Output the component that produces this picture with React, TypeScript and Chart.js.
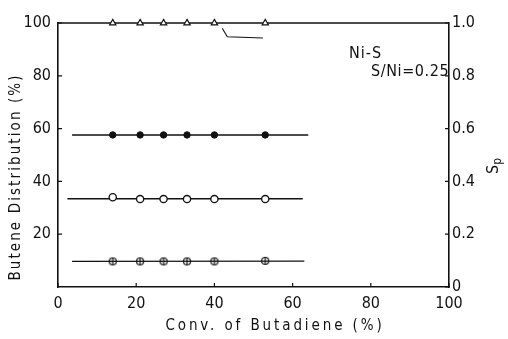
import React, { useEffect, useRef } from 'react';
import { Chart, registerables } from 'chart.js';
Chart.register(...registerables);

const FONT = "'DejaVu Sans Condensed', 'DejaVu Sans', sans-serif";

// Data
const conversion = [14, 21, 27, 33, 40, 53];
const triangleValues = [100, 100, 100, 100, 100, 100];
const filledValues = [57.6, 57.6, 57.6, 57.6, 57.6, 57.6];
const openValues = [34, 33.3, 33.3, 33.3, 33.3, 33.3];
const halfValues = [9.7, 9.7, 9.7, 9.7, 9.7, 9.9];

const filledFitX = [3.6, 64];
const filledFitY = [57.6, 57.6];
const openFitX = [2.4, 62.6];
const openFitY = [33.4, 33.4];
const halfFitX = [3.6, 63];
const halfFitY = [9.7, 9.8];
const leaderX = [42, 43.3, 52.4];
const leaderY = [98, 94.8, 94.3];

const xTicks = [0, 20, 40, 60, 80, 100];
const leftTicks = [20, 40, 60, 80, 100];
const rightTicks = [0, 0.2, 0.4, 0.6, 0.8, 1.0];

const xTitle = 'Conv. of Butadiene (%)';
const yTitle = 'Butene Distribution (%)';
const noteLine1 = 'Ni-S';
const noteLine2 = 'S/Ni=0.25';

const pts = (xs: number[], ys: number[]) => xs.map((x, i) => ({ x, y: ys[i] }));

function halfMarker(): HTMLCanvasElement {
  const c = document.createElement('canvas');
  c.width = 10; c.height = 10;
  const g = c.getContext('2d')!;
  g.strokeStyle = '#111';
  g.lineWidth = 1.2;
  g.beginPath(); g.arc(5, 5, 3.5, 0, Math.PI * 2); g.stroke();
  g.beginPath(); g.moveTo(5, 1.3); g.lineTo(5, 8.7); g.stroke();
  return c;
}

const decor = {
  id: 'decor',
  afterDraw(chart: any) {
    const ctx = chart.ctx as CanvasRenderingContext2D;
    const { left, right, bottom } = chart.chartArea;
    const xs = chart.scales.x, ys = chart.scales.y, y1 = chart.scales.y1;
    ctx.save();
    ctx.strokeStyle = '#111';
    ctx.lineWidth = 1.2;
    ctx.beginPath();
    xTicks.forEach(v => { const p = xs.getPixelForValue(v); ctx.moveTo(p, bottom); ctx.lineTo(p, bottom - 4); });
    leftTicks.forEach(v => { const p = ys.getPixelForValue(v); ctx.moveTo(left, p); ctx.lineTo(left + 4, p); });
    rightTicks.forEach(v => { const p = y1.getPixelForValue(v); ctx.moveTo(right, p); ctx.lineTo(right - 4, p); });
    ctx.stroke();

    ctx.fillStyle = '#111';
    ctx.font = `15px ${FONT}`;
    (ctx as any).letterSpacing = '2.9px';
    ctx.textAlign = 'center';
    ctx.textBaseline = 'middle';
    ctx.fillText(xTitle, 275, 326);

    ctx.save();
    (ctx as any).letterSpacing = '2.1px';
    ctx.translate(16, 177);
    ctx.rotate(-Math.PI / 2);
    ctx.fillText(yTitle, 0, 0);
    ctx.restore();

    ctx.font = `16px ${FONT}`;
    (ctx as any).letterSpacing = '1px';
    ctx.textAlign = 'left';
    ctx.fillText(noteLine1, 349, 54);
    (ctx as any).letterSpacing = '0.6px';
    ctx.fillText(noteLine2, 371, 72);
    (ctx as any).letterSpacing = '0px';

    ctx.save();
    ctx.translate(494, 174);
    ctx.rotate(-Math.PI / 2);
    ctx.textAlign = 'left';
    ctx.font = `16px ${FONT}`;
    ctx.fillText('S', 0, 0);
    const w = ctx.measureText('S').width;
    ctx.font = `12px ${FONT}`;
    ctx.fillText('p', w, 4);
    ctx.restore();
    ctx.restore();
  },
};

export default function App() {
  const ref = useRef<HTMLCanvasElement>(null);
  useEffect(() => {
    const half = halfMarker();
    const lineDs = (xs: number[], ys: number[]) => ({
      data: pts(xs, ys), showLine: true, borderColor: '#111', borderWidth: 1.4,
      pointRadius: 0, yAxisID: 'y', order: 2,
    });
    const chart = new Chart(ref.current!, {
      type: 'scatter',
      data: {
        datasets: [
          { ...lineDs([0, 100], [100, 100]), borderWidth: 1.6, clip: false },
          lineDs(filledFitX, filledFitY),
          lineDs(openFitX, openFitY),
          lineDs(halfFitX, halfFitY),
          { ...lineDs(leaderX, leaderY), borderWidth: 1.1 },
          {
            data: pts(conversion, triangleValues), pointStyle: 'triangle', pointRadius: 3.6,
            backgroundColor: '#fff', borderColor: '#111', borderWidth: 1.2, yAxisID: 'y', order: 1, clip: false,
          },
          {
            data: pts(conversion, filledValues), pointStyle: 'circle', pointRadius: 3.2,
            backgroundColor: '#111', borderColor: '#111', borderWidth: 1, yAxisID: 'y', order: 1,
          },
          {
            data: pts(conversion, openValues), pointStyle: 'circle', pointRadius: 3.6,
            backgroundColor: '#fff', borderColor: '#111', borderWidth: 1.3, yAxisID: 'y', order: 1,
          },
          {
            data: pts(conversion, halfValues), pointStyle: half as any, pointRadius: 4,
            backgroundColor: '#fff', borderColor: '#111', borderWidth: 1.2, yAxisID: 'y', order: 1,
          },
        ],
      },
      options: {
        animation: false,
        responsive: false,
        maintainAspectRatio: false,
        layout: { padding: { top: 23, left: 0, right: 0, bottom: 0 } },
        plugins: { legend: { display: false }, tooltip: { enabled: false }, title: { display: false } },
        scales: {
          x: {
            type: 'linear', min: 0, max: 100,
            afterFit: (s: any) => { s.height = 52; },
            afterBuildTicks: (s: any) => { s.ticks = xTicks.map(v => ({ value: v })); },
            grid: { display: false, drawTicks: false },
            border: { display: true, color: '#111', width: 1.6 },
            ticks: { color: '#111', padding: 7, font: { family: FONT, size: 16 }, maxRotation: 0 },
          },
          y: {
            type: 'linear', position: 'left', min: 0, max: 100,
            afterFit: (s: any) => { s.width = 58; },
            afterBuildTicks: (s: any) => { s.ticks = leftTicks.map(v => ({ value: v })); },
            grid: { display: false, drawTicks: false },
            border: { display: true, color: '#111', width: 1.6 },
            ticks: { color: '#111', padding: 7, font: { family: FONT, size: 16 } },
          },
          y1: {
            type: 'linear', position: 'right', min: 0, max: 1,
            afterFit: (s: any) => { s.width = 59; },
            afterBuildTicks: (s: any) => { s.ticks = rightTicks.map(v => ({ value: v })); },
            grid: { display: false, drawTicks: false },
            border: { display: true, color: '#111', width: 1.6 },
            ticks: {
              color: '#111', padding: 3, font: { family: FONT, size: 16 },
              callback: (v: any) => (Number(v) === 0 ? '0' : Number(v).toFixed(1)),
            },
          },
        },
      },
      plugins: [decor],
    } as any);
    return () => chart.destroy();
  }, []);
  return (
    <div style={{ position: 'fixed', left: 0, top: 0, width: 508, height: 339, background: '#fff' }}>
      <canvas ref={ref} width={508} height={339} style={{ width: 508, height: 339 }} />
    </div>
  );
}
